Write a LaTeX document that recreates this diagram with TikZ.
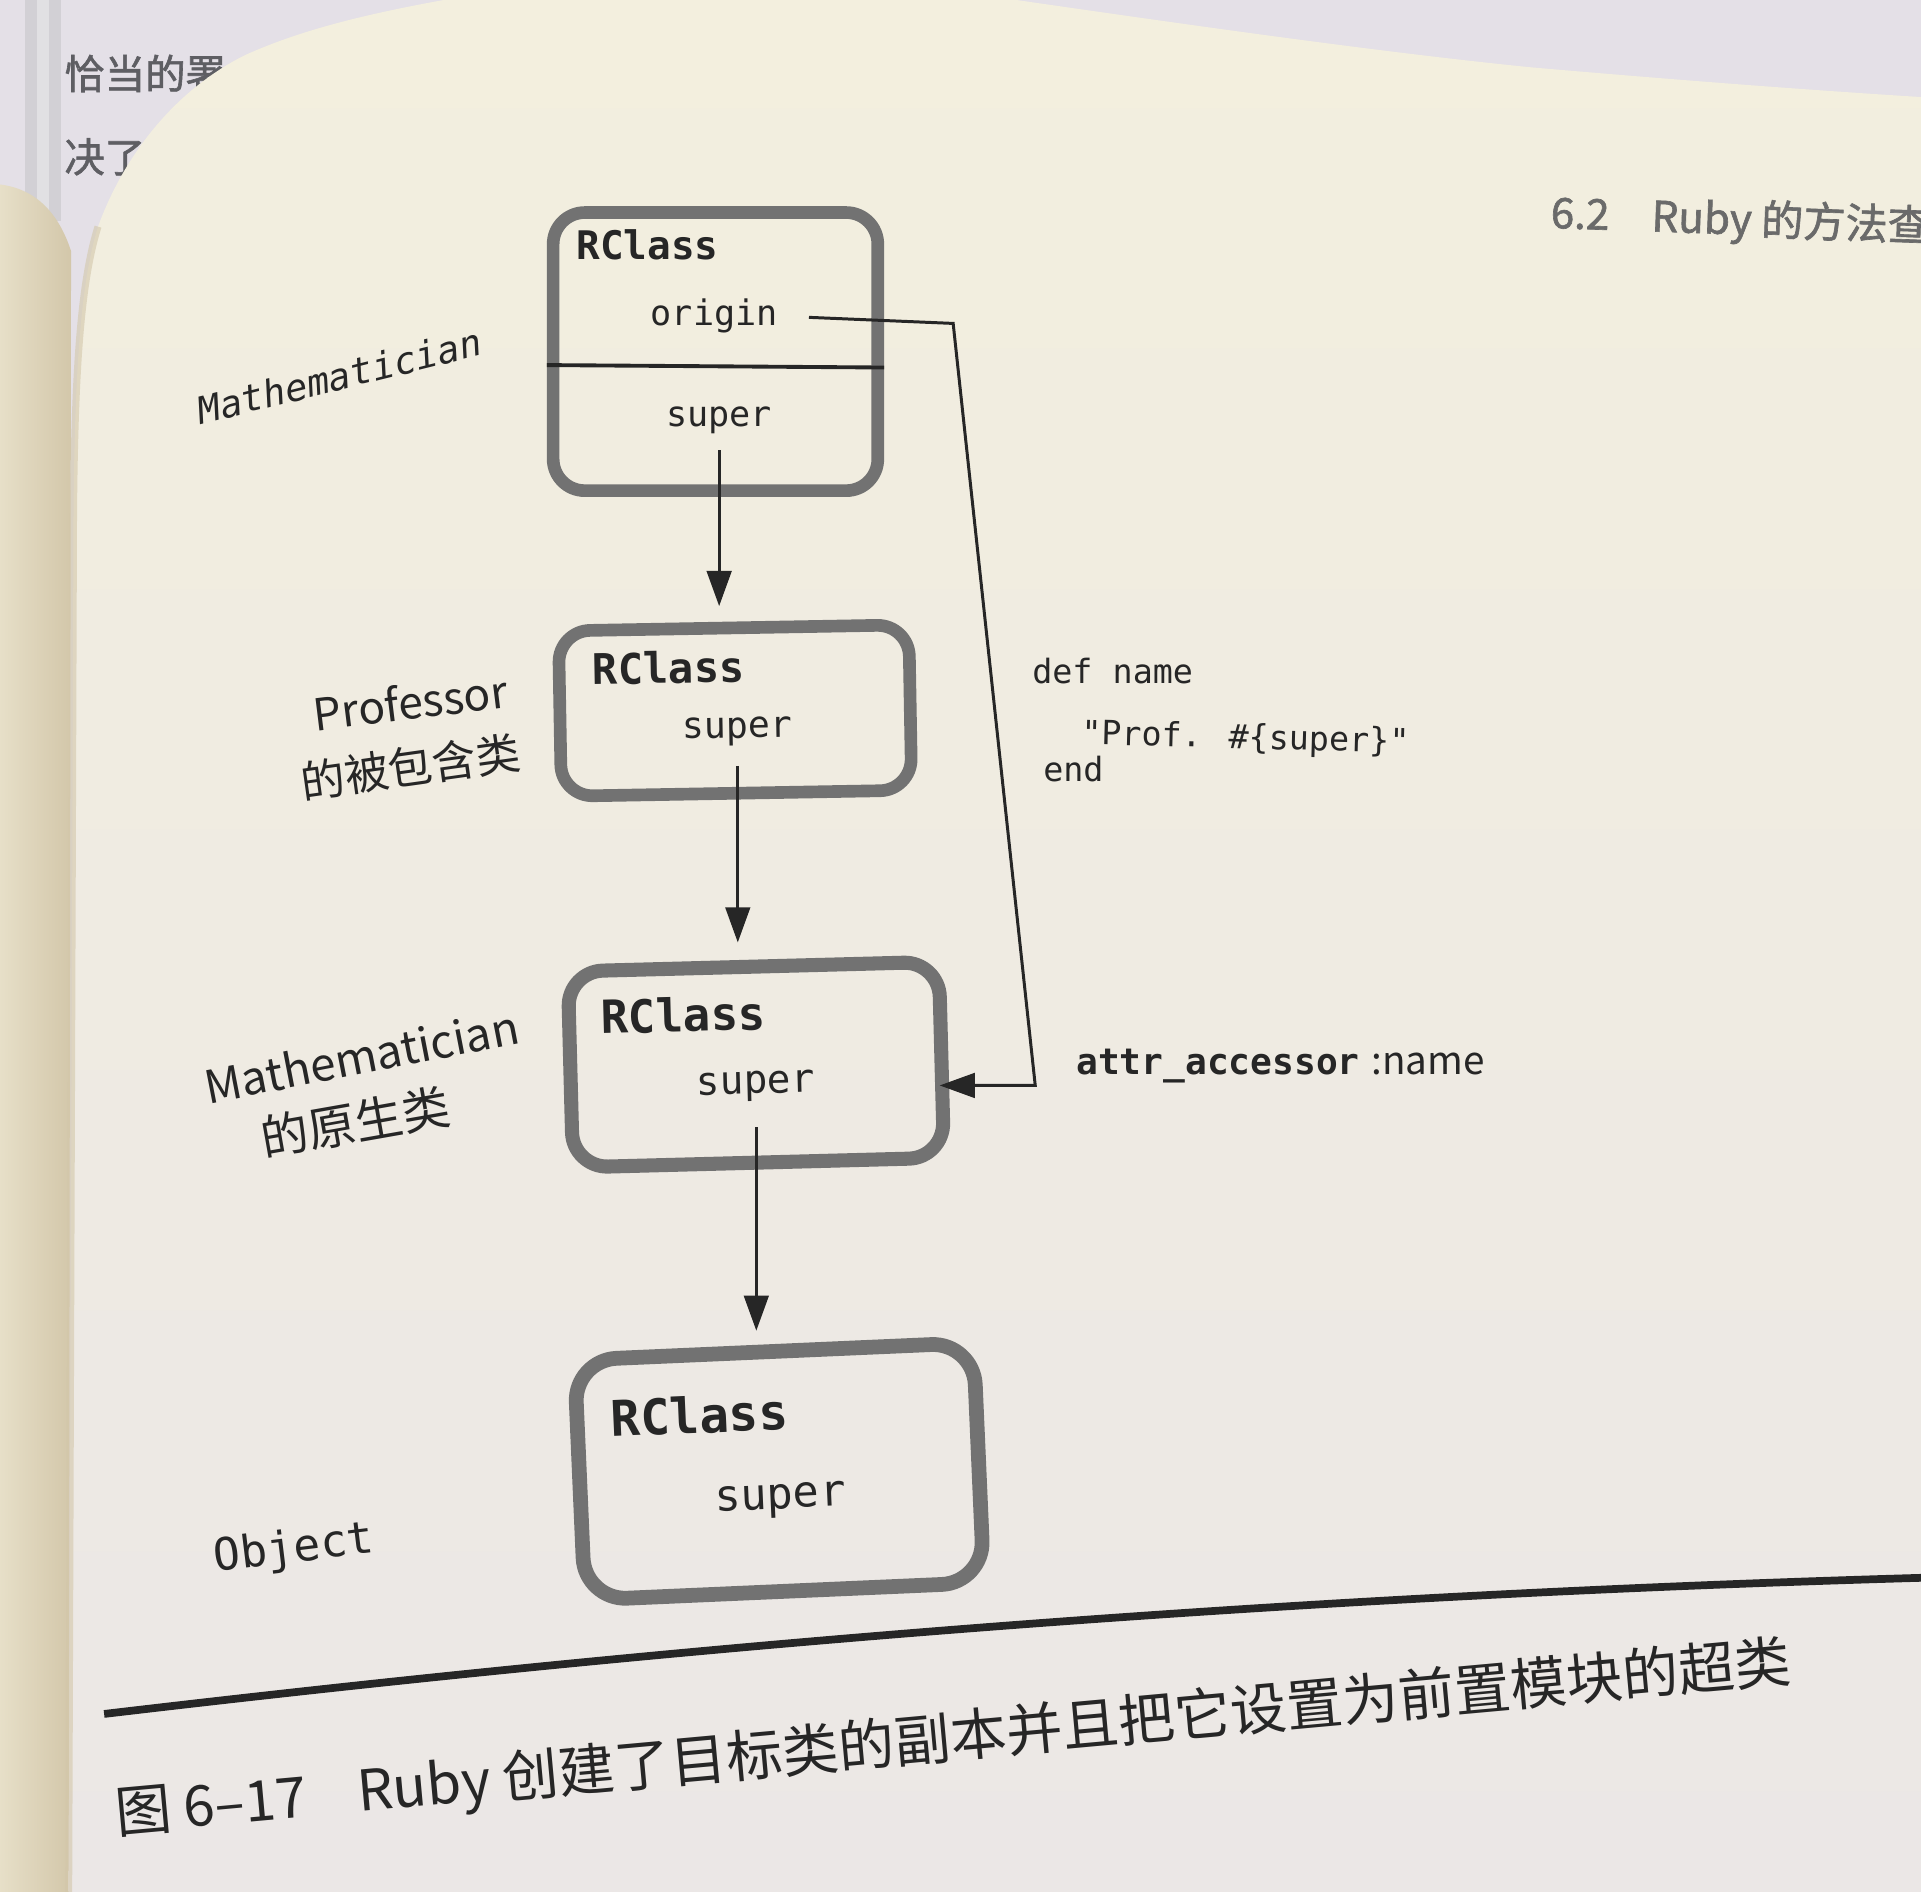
\documentclass[tikz,border=0pt]{standalone}
\usepackage{fontspec}
\usetikzlibrary{arrows.meta,calc}
\newfontfamily\codefont{DejaVu Sans Mono}
\newfontfamily\cjkfont{Noto Sans CJK SC}
\newfontfamily\headfont[FakeBold=1.5]{Noto Sans CJK SC}
\newcommand\setfs[1]{\fontsize{#1}{#1}\selectfont}

\definecolor{backdrop}{HTML}{E4E0E7}
\definecolor{pagetop}{HTML}{F3EFDE}
\definecolor{pagebot}{HTML}{EBE7E6}
\definecolor{leftpg}{HTML}{EAE3CD}
\definecolor{leftpgdark}{HTML}{D3C7AA}
\definecolor{stick}{HTML}{D2D0D5}
\definecolor{ink}{HTML}{262626}
\definecolor{boxgray}{HTML}{727272}
\definecolor{ghostink}{HTML}{5E5E63}
\definecolor{headink}{HTML}{6A6A6A}

\def\U{0.01225cm}

\tikzset{
  rbox/.style={draw=boxgray, inner sep=0pt, line width=3.6pt, rounded corners=9pt},
  cls/.style={inner sep=0pt, text=ink, anchor=west},
  fld/.style={inner sep=0pt, text=ink},
  conn/.style={draw=ink, line width=0.85pt},
  arr/.style={conn, -{Triangle[length=10pt,width=7pt]}},
  divider/.style={draw=ink, line width=1.1pt},
  lbl/.style={inner sep=0pt, text=ink},
  code/.style={inner sep=0pt, text=ink, anchor=west, font={\codefont\setfs{9.5}}},
  rule/.style={draw=ink, line width=2.2pt},
}

\begin{document}
\begin{tikzpicture}[x=\U, y=-\U]
\useasboundingbox (0,0) rectangle (1568,1544);
\clip (0,0) rectangle (1568,1544);

% surroundings of the open book
\fill[backdrop] (-10,-10) rectangle (1580,1560);
\node[inner sep=0pt, anchor=west, text=ghostink, font={\headfont\setfs{11.5}}] (g1) at (52,60) {恰当的署};
\node[inner sep=0pt, anchor=west, text=ghostink, font={\headfont\setfs{11.5}}] (g2) at (52,128) {决了};
\fill[stick] (20,-10) rectangle (50,180);
\fill[white, opacity=0.35] (30,-10) rectangle (40,180);

% left page
\shade[left color=leftpg, right color=leftpgdark]
  (-10,150) .. controls (20,150) and (45,165) .. (58,205) -- (56,1560) -- (-10,1560) -- cycle;

% right page
\shade[top color=pagetop, bottom color=pagebot]
  (56,1560) -- (60,420) .. controls (61,300) and (66,230) .. (80,185)
  .. controls (100,130) and (140,75) .. (200,45)
  .. controls (260,18) and (330,5) .. (420,-10) -- (760,-10)
  .. controls (900,10) and (1100,40) .. (1250,55)
  .. controls (1400,68) and (1500,75) .. (1580,80) -- (1580,1560) -- cycle;
\draw[leftpgdark, line width=2pt, opacity=0.6]
  (56,1560) -- (60,420) .. controls (61,300) and (66,230) .. (80,185);

% running head
\node[inner sep=0pt, anchor=base west, rotate=-2, text=headink, font={\headfont\setfs{12}}]
  (head) at (1265,186) {6.2\hspace{1em}Ruby 的方法查};

% class boxes
\node[rbox, minimum width=265*\U, minimum height=227*\U] (b1) at (584,287) {};
\node[rbox, minimum width=286*\U, minimum height=135*\U, rotate=1] (b2) at (600,580) {};
\node[rbox, line width=4pt, rounded corners=10pt, minimum width=303*\U, minimum height=160*\U, rotate=1.5] (b3) at (617,869) {};
\node[rbox, line width=4.2pt, rounded corners=12pt, minimum width=326*\U, minimum height=196*\U, rotate=2.5] (b4) at (636,1201) {};

\draw[divider] ($(b1.west)+(0,11)$) -- ($(b1.east)+(0,13)$);

% box contents
\node[cls, font={\codefont\bfseries\setfs{11.2}}] (r1) at (470,200) {RClass};
\node[fld, font={\codefont\setfs{10}}] (o1) at (583,258) {origin};
\node[fld, font={\codefont\setfs{10}}] (s1) at (587,343) {super};

\node[cls, rotate=1, font={\codefont\bfseries\setfs{12}}] (r2) at (483,546) {RClass};
\node[fld, rotate=1, font={\codefont\setfs{10.4}}] (s2) at (602,597) {super};

\node[cls, rotate=1.5, font={\codefont\bfseries\setfs{13}}] (r3) at (490,830) {RClass};
\node[fld, rotate=1.5, font={\codefont\setfs{11.2}}] (s3) at (617,887) {super};

\node[cls, rotate=2.5, font={\codefont\bfseries\setfs{14}}] (r4) at (498,1158) {RClass};
\node[fld, rotate=2.5, font={\codefont\setfs{12.4}}] (s4) at (637,1225) {super};

% super chain
\draw[arr, shorten <=4.5pt, shorten >=4.4pt] (s1.south) -- (s1.south |- b2.north);
\draw[arr, shorten <=5.6pt, shorten >=4.9pt] (s2.south) -- (s2.south |- b3.north);
\draw[arr, shorten <=7pt, shorten >=3.8pt] (s3.south) -- (s3.south |- b4.north);

% origin pointer
\coordinate (c1) at (778,264);
\coordinate (c2) at (845,886);
\draw[arr, shorten <=8.7pt, shorten >=-2.5pt] (o1.east) -- (c1) -- (c2) -- (c2 -| b3.east);

% method definitions
\node[code] (d1) at (842,548) {def name};
\node[code, rotate=-1.5] (d2) at (882,600) {"Prof. \#\{super\}"};
\node[code] (d3) at (851,628) {end};
\node[inner sep=0pt, anchor=west, text=ink] (acc) at (878,870)
  {{\codefont\bfseries\setfs{10.3}attr\_accessor} {\cjkfont\setfs{11}:name}};

% class labels
\node[lbl, rotate=14, font={\codefont\itshape\setfs{10.6}}] (m1) at (277,307) {Mathematician};
\node[lbl, rotate=7, font={\cjkfont\setfs{12.6}}] (p1) at (335,573) {Professor};
\node[lbl, rotate=8, font={\cjkfont\setfs{12.6}}] (p2) at (335,626) {的被包含类};
\node[lbl, rotate=11, font={\cjkfont\setfs{13}}] (m2) at (295,862) {Mathematician};
\node[lbl, rotate=10, font={\cjkfont\setfs{13.6}}] (m3) at (290,916) {的原生类};
\node[lbl, rotate=7, font={\codefont\setfs{12.7}}] (ob) at (240,1265) {Object};

% caption
\draw[rule] (85,1399) .. controls (500,1350) and (1000,1303) .. (1600,1287);
\node[inner sep=0pt, anchor=base west, rotate=5.2, text=ink, font={\cjkfont\setfs{16}}]
  (cap) at (95,1497) {图 6–17\hspace{0.9em}Ruby 创建了目标类的副本并且把它设置为前置模块的超类};
\end{tikzpicture}
\end{document}
